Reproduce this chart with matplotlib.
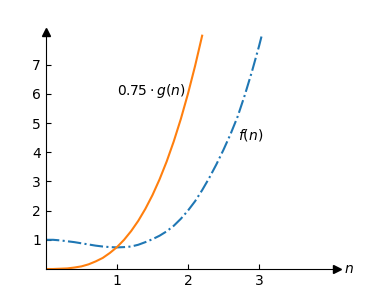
import numpy as np
import matplotlib.pyplot as plt

# значения
n_g = [0.0, 0.1, 0.2, 0.3, 0.4, 0.5, 0.6, 0.7, 0.8, 0.9, 1.0, 1.1,
       1.2, 1.3, 1.4, 1.5, 1.6, 1.7, 1.8, 1.9, 2.0, 2.1, 2.2]
g_075 = [0.0, 0.0, 0.01, 0.02, 0.05, 0.09, 0.16, 0.26, 0.38, 0.55, 0.75, 1.0,
         1.3, 1.65, 2.06, 2.53, 3.07, 3.68, 4.37, 5.14, 6.0, 6.95, 7.99]

n_f = [0.0, 0.1, 0.2, 0.3, 0.4, 0.5, 0.6, 0.7, 0.8, 0.9, 1.0, 1.1,
       1.2, 1.3, 1.4, 1.5, 1.6, 1.7, 1.8, 1.9, 2.0, 2.1, 2.2, 2.3,
       2.4, 2.5, 2.6, 2.7, 2.8, 2.9, 3.0, 3.04]
f_vals = [1.0, 1.0, 0.98, 0.95, 0.92, 0.88, 0.84, 0.8, 0.77, 0.75, 0.74, 0.75,
          0.77, 0.83, 0.92, 1.02, 1.14, 1.29, 1.48, 1.72, 2.0, 2.32, 2.7, 3.12,
          3.58, 4.08, 4.62, 5.22, 5.95, 6.75, 7.62, 8.0]

x_ticks = [1, 2, 3]
y_ticks = [1, 2, 3, 4, 5, 6, 7]

fig = plt.figure(figsize=(3.67, 3.03), dpi=100)
ax = fig.add_axes([0.1253, 0.1122, 0.793, 0.7806])

ax.plot(n_f, f_vals, '-.', color='#1f77b4', lw=1.5)
ax.plot(n_g, g_075, '-', color='#ff7f0e', lw=1.5)

ax.text(1.0, 6.1, r'$0.75 \cdot g(n)$', fontsize=10, va='center', ha='left')
ax.text(2.7, 4.6, r'$f(n)$', fontsize=10, va='center', ha='left')

ax.set_xlim(0, 4.1)
ax.set_ylim(0, 8.1)
ax.set_xticks(x_ticks)
ax.set_yticks(y_ticks)
ax.tick_params(direction='in', labelsize=10)

ax.spines['top'].set_visible(False)
ax.spines['right'].set_visible(False)

# стрелки на осях
ax.plot(1, 0, '>k', transform=ax.get_yaxis_transform(), clip_on=False, ms=6)
ax.plot(0, 1, '^k', transform=ax.get_xaxis_transform(), clip_on=False, ms=6)
ax.text(4.2, 0, r'$n$', fontsize=10, va='center', ha='left')

fig.savefig('out.png', dpi=100)
